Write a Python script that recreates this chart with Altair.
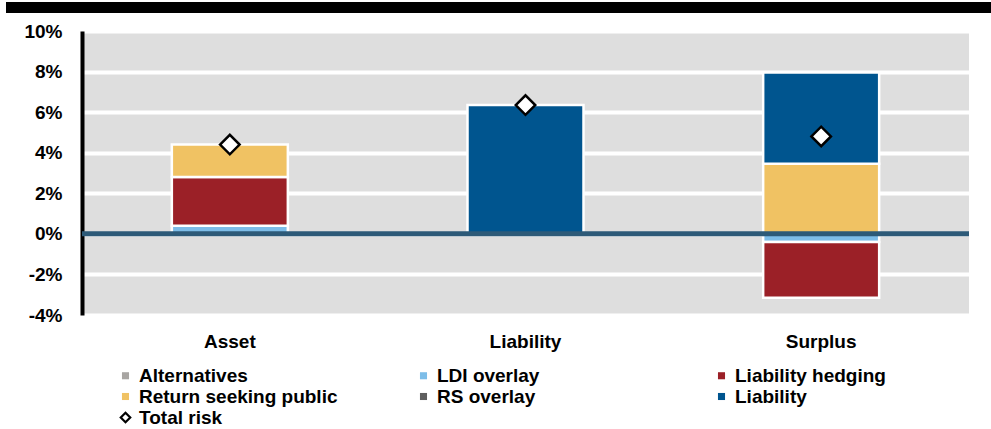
import altair as alt
import pandas as pd

categories = ["Asset", "Liability", "Surplus"]
series = ["Alternatives", "LDI overlay", "Liability hedging",
          "Return seeking public", "RS overlay", "Liability"]
colors = ["#a8a5a2", "#7dbde8", "#9b2027", "#f0c263", "#5e5e5e", "#00558f"]
# legend fills column by column (2 rows), so this order gives the reference's rows
legend_order = ["Alternatives", "Return seeking public", "LDI overlay",
                "RS overlay", "Liability hedging", "Liability"]

alternatives = [0, 0, 0]
ldi_overlay = [0.4, 0, -0.4]
liability_hedging = [2.4, 0, -2.75]
return_seeking_public = [1.6, 0, 3.45]
rs_overlay = [0, 0, 0]
liability = [0, 6.35, 4.5]
total_risk = [4.4, 6.35, 4.8]
y_ticks = [-4, -2, 0, 2, 4, 6, 8, 10]

series_values = [alternatives, ldi_overlay, liability_hedging,
                 return_seeking_public, rs_overlay, liability]
rows = []
for si, (name, vals) in enumerate(zip(series, series_values)):
    for ci, cat in enumerate(categories):
        rows.append({"category": cat, "series": name, "value": vals[ci], "order": si})
bars_df = pd.DataFrame(rows)
total_df = pd.DataFrame({"category": categories, "total": total_risk,
                         "label": ["Total risk"] * 3})

color_of = dict(zip(series, colors))
legend_colors = [color_of[s] for s in legend_order]

FONT = "Liberation Sans"

x_enc = alt.X("category:N", sort=categories,
              scale=alt.Scale(paddingInner=0, paddingOuter=0),
              axis=alt.Axis(title=None, labelAngle=0, ticks=False, tickSize=0,
                            domain=False, grid=False, labelFontSize=19,
                            labelFontWeight="bold", labelColor="black",
                            labelPadding=17))
y_axis = alt.Axis(title=None, values=y_ticks, labelExpr="datum.value + '%'",
                  ticks=False, tickSize=0, domain=True, domainColor="black",
                  domainWidth=4, grid=True, gridColor="white", gridWidth=4,
                  labelFontSize=19, labelFontWeight="bold", labelColor="black",
                  labelPadding=20)
y_scale = alt.Scale(domain=[-4, 10], nice=False)

bars = alt.Chart(bars_df).transform_filter("datum.value != 0").mark_bar(
    size=116, stroke="white", strokeWidth=2.5
).encode(
    x=x_enc,
    y=alt.Y("value:Q", stack="zero", scale=y_scale, axis=y_axis),
    color=alt.Color("series:N",
                    scale=alt.Scale(domain=legend_order, range=legend_colors),
                    legend=alt.Legend(title=None, orient="none", legendX=34,
                                      legendY=335, columns=3, gridAlign="all",
                                      columnPadding=76, rowPadding=1,
                                      symbolType="square", symbolSize=50,
                                      symbolStrokeWidth=0, labelFontSize=19,
                                      labelFontWeight="bold", labelColor="black",
                                      labelLimit=400, labelOffset=4,
                                      labelFont=FONT)),
    order=alt.Order("order:Q"),
)

zero_rule = alt.Chart(alt.Data(values=[{}])).mark_rule(
    color="#2d5a78", strokeWidth=5
).encode(y=alt.datum(0))

points = alt.Chart(total_df).mark_point(
    shape="diamond", filled=True, fill="white",
    strokeWidth=2.5, size=380, opacity=1, fillOpacity=1, strokeOpacity=1
).encode(
    x=x_enc,
    y=alt.Y("total:Q", scale=y_scale, axis=y_axis),
    stroke=alt.Stroke("label:N",
                      scale=alt.Scale(domain=["Total risk"], range=["black"]),
                      legend=alt.Legend(title=None, orient="none", legendX=34,
                                        legendY=377, symbolType="diamond",
                                        symbolSize=90,
                                        symbolFillColor="white",
                                        symbolStrokeWidth=2.2, labelFontSize=19,
                                        labelFontWeight="bold", labelColor="black",
                                        labelOffset=4, labelFont=FONT)),
)

top_bar = alt.Chart(alt.Data(values=[{}])).mark_rect(color="black").encode(
    x=alt.value(-76), x2=alt.value(909), y=alt.value(-29), y2=alt.value(-18)
)

chart = alt.layer(top_bar, bars, zero_rule, points).properties(
    width=887, height=284,
    padding={"left": 6, "top": 2, "right": 0, "bottom": 0},
).configure(font=FONT).configure_view(fill="#dedede", stroke=None)

chart.save("out.html", embed_options={"renderer": "svg", "actions": False})
